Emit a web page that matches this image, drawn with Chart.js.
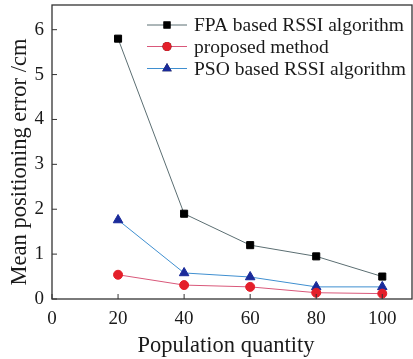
<!DOCTYPE html>
<html>
<head>
<meta charset="utf-8">
<script src="https://cdn.jsdelivr.net/npm/chart.js@4.4.0/dist/chart.umd.min.js"></script>
<style>
  html, body { margin: 0; padding: 0; background: #ffffff; }
  #wrap { width: 413px; height: 359px; }
</style>
</head>
<body>
<div id="wrap"><canvas id="chart" width="413" height="359"></canvas></div>
<script>
// Data
const populations = [20, 40, 60, 80, 100];
const fpaErrors = [5.8, 1.9, 1.2, 0.95, 0.5];
const proposedErrors = [0.54, 0.31, 0.27, 0.14, 0.12];
const psoErrors = [1.76, 0.58, 0.49, 0.27, 0.27];

const seriesNames = ["FPA based RSSI algorithm", "proposed method", "PSO based RSSI algorithm"];
const xTicks = [0, 20, 40, 60, 80, 100];
const yTicks = [0, 1, 2, 3, 4, 5, 6];
const xTitle = "Population quantity";
const yTitle = "Mean positioning error /cm";

const SERIF = "'Liberation Serif', 'DejaVu Serif', serif";
const TEXT_COLOR = "#1a1a1a";

const toPoints = (ys) => populations.map((x, i) => ({ x: x, y: ys[i] }));

const datasets = [
  {
    label: seriesNames[0],
    data: toPoints(fpaErrors),
    borderColor: "#5b6e72",
    backgroundColor: "#000000",
    pointStyle: "rect",
    pointRadius: 5,
    pointBorderColor: "#000000",
    borderWidth: 1
  },
  {
    label: seriesNames[1],
    data: toPoints(proposedErrors),
    borderColor: "#d9587a",
    backgroundColor: "#e41f2a",
    pointStyle: "circle",
    pointRadius: 4.5,
    pointBorderColor: "#e41f2a",
    borderWidth: 1
  },
  {
    label: seriesNames[2],
    data: toPoints(psoErrors),
    borderColor: "#3f8fd0",
    backgroundColor: "#1a2a9a",
    pointStyle: "triangle",
    pointRadius: 5.5,
    pointBorderColor: "#1a2a9a",
    borderWidth: 1
  }
];

const noScalePadding = (s) => {
  s.paddingTop = 0;
  s.paddingBottom = 0;
  s.paddingLeft = 0;
  s.paddingRight = 0;
};

// frame around plot area + inward ticks
const framePlugin = {
  id: "frame",
  afterDatasetsDraw(chart) {
    const { ctx, chartArea: a, scales } = chart;
    ctx.save();
    ctx.strokeStyle = "#333333";
    ctx.lineWidth = 1.3;
    ctx.strokeRect(a.left, a.top, a.right - a.left, a.bottom - a.top);
    ctx.lineWidth = 1;
    xTicks.forEach((v) => {
      const px = scales.x.getPixelForValue(v);
      ctx.beginPath();
      ctx.moveTo(px, a.bottom);
      ctx.lineTo(px, a.bottom - 5);
      ctx.stroke();
    });
    yTicks.forEach((v) => {
      const py = scales.y.getPixelForValue(v);
      ctx.beginPath();
      ctx.moveTo(a.left, py);
      ctx.lineTo(a.left + 5, py);
      ctx.stroke();
    });
    ctx.restore();
  }
};

// axis titles, placed a bit off-centre like the original figure
const titlesPlugin = {
  id: "axisTitles",
  afterDraw(chart) {
    const { ctx } = chart;
    ctx.save();
    ctx.font = "22.5px " + SERIF;
    ctx.fillStyle = TEXT_COLOR;
    ctx.textAlign = "center";
    ctx.textBaseline = "middle";
    ctx.fillText(xTitle, 226, 346);
    ctx.translate(20, 162);
    ctx.rotate(-Math.PI / 2);
    ctx.fillText(yTitle, 0, 0);
    ctx.restore();
  }
};

// legend: line + marker + text, top right
const legendPlugin = {
  id: "lineLegend",
  afterDraw(chart) {
    const { ctx } = chart;
    const rows = [25, 46.5, 68.5];
    ctx.save();
    ctx.font = "19.5px " + SERIF;
    ctx.textBaseline = "middle";
    datasets.forEach((ds, i) => {
      const y = rows[i];
      ctx.strokeStyle = ds.borderColor;
      ctx.lineWidth = 1;
      ctx.beginPath();
      ctx.moveTo(147, y);
      ctx.lineTo(187, y);
      ctx.stroke();
      Chart.helpers.drawPoint(ctx, {
        pointStyle: ds.pointStyle,
        radius: ds.pointRadius,
        rotation: 0,
        borderWidth: 0
      }, 167, y);
      ctx.fillStyle = ds.backgroundColor;
      ctx.fill();
      ctx.fillStyle = TEXT_COLOR;
      ctx.fillText(ds.label, 194, y + 1);
    });
    ctx.restore();
  }
};

new Chart(document.getElementById("chart"), {
  type: "line",
  data: { datasets: datasets },
  options: {
    responsive: false,
    animation: false,
    layout: {
      autoPadding: false,
      padding: { top: 5, right: 1, left: 0, bottom: 0 }
    },
    plugins: {
      legend: { display: false },
      tooltip: { enabled: false }
    },
    scales: {
      x: {
        type: "linear",
        min: 0,
        max: 109,
        afterBuildTicks: (s) => { s.ticks = xTicks.map((v) => ({ value: v })); },
        afterFit: (s) => { s.height = 60; noScalePadding(s); },
        grid: { display: false, drawTicks: false },
        border: { display: false },
        ticks: {
          color: TEXT_COLOR,
          padding: 9,
          font: { family: SERIF, size: 19 }
        },
        title: { display: false }
      },
      y: {
        type: "linear",
        min: 0,
        max: 6.55,
        afterBuildTicks: (s) => { s.ticks = yTicks.map((v) => ({ value: v })); },
        afterFit: (s) => { s.width = 52; noScalePadding(s); },
        grid: { display: false, drawTicks: false },
        border: { display: false },
        ticks: {
          color: TEXT_COLOR,
          padding: 8,
          font: { family: SERIF, size: 19 }
        },
        title: { display: false }
      }
    }
  },
  plugins: [framePlugin, titlesPlugin, legendPlugin]
});
</script>
</body>
</html>
